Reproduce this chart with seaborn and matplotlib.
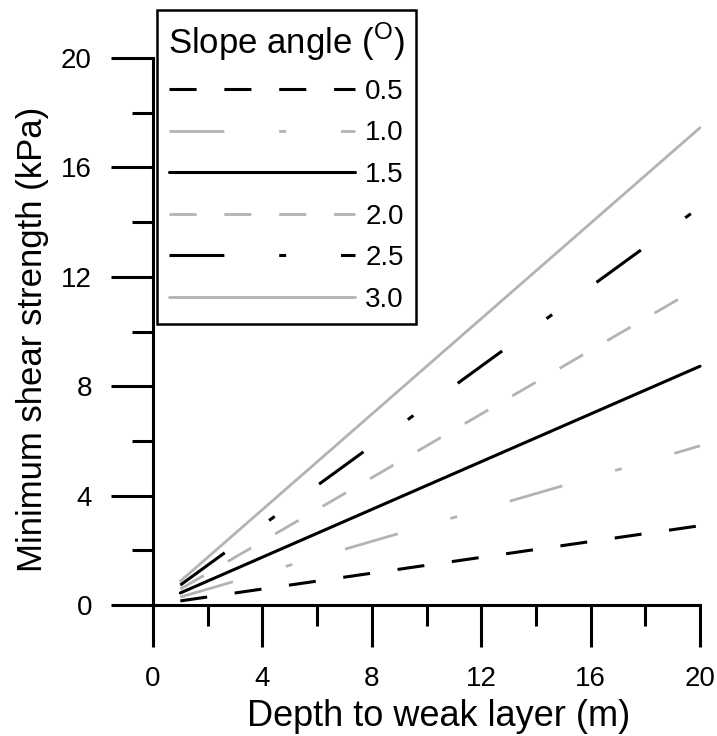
import numpy as np
import pandas as pd
import matplotlib
matplotlib.use("Agg")
import matplotlib.pyplot as plt
from matplotlib.ticker import MultipleLocator
import seaborn as sns

# data (straight lines from 1 m to 20 m)
depth = [1, 20]
angles = ["0.5", "1.0", "1.5", "2.0", "2.5", "3.0"]
s_05 = [0.15, 2.90]
s_10 = [0.29, 5.82]
s_15 = [0.44, 8.73]
s_20 = [0.58, 11.64]
s_25 = [0.73, 14.55]
s_30 = [0.87, 17.45]

rows = []
for ang, vals in zip(angles, [s_05, s_10, s_15, s_20, s_25, s_30]):
    for d, v in zip(depth, vals):
        rows.append({"depth": d, "strength": v, "angle": ang})
df = pd.DataFrame(rows)

# style
sns.set_style("ticks")
plt.rcParams["font.family"] = ["Liberation Sans", "DejaVu Sans"]
plt.rcParams["mathtext.fontset"] = "custom"
plt.rcParams["mathtext.rm"] = "Liberation Sans"
plt.rcParams["lines.scale_dashes"] = False
plt.rcParams["text.color"] = "black"
plt.rcParams["axes.labelcolor"] = "black"

black = "black"
grey = "#b3b3b3"
palette = {"0.5": black, "1.0": grey, "1.5": black,
           "2.0": grey, "2.5": black, "3.0": grey}
dash = (19.5, 20.0)
longdot = (39.5, 39.5, 5.0, 39.5)
dashes = {"0.5": dash, "1.0": longdot, "1.5": "",
          "2.0": dash, "2.5": longdot, "3.0": ""}

fig = plt.figure(figsize=(7.17, 7.36), dpi=100)
ax = fig.add_axes([153 / 717, 131 / 736, 547 / 717, 547 / 736])

sns.lineplot(data=df, x="depth", y="strength", hue="angle", style="angle",
             palette=palette, dashes=dashes, hue_order=angles,
             style_order=angles, legend=False, ax=ax)

for ang, line in zip(angles, ax.lines):
    line.set_linewidth(2.2 if palette[ang] == black else 2.0)
    line.set_clip_on(False)
    line.set_dash_capstyle("butt")

ax.set_xlim(0, 20)
ax.set_ylim(0, 20)
ax.xaxis.set_major_locator(MultipleLocator(4))
ax.xaxis.set_minor_locator(MultipleLocator(2))
ax.yaxis.set_major_locator(MultipleLocator(4))
ax.yaxis.set_minor_locator(MultipleLocator(2))

for s in ["top", "right"]:
    ax.spines[s].set_visible(False)
for s in ["left", "bottom"]:
    ax.spines[s].set_linewidth(2.2)
    ax.spines[s].set_color("black")

ax.tick_params(which="major", direction="out", length=30, width=2.2,
               color="black", labelsize=20, pad=14, labelcolor="black")
ax.tick_params(which="minor", direction="out", length=15, width=2.2,
               color="black")

ax.set_xlabel("Depth to weak layer (m)", fontsize=26)
ax.set_ylabel("Minimum shear strength (kPa)", fontsize=25)
ax.xaxis.set_label_coords(0.523, -0.172)
ax.yaxis.set_label_coords(-0.19, 0.485)

leg = ax.legend(handles=ax.lines, labels=angles,
                title=r"Slope angle ($^{\mathrm{O}}$)",
                loc="upper left",
                bbox_to_anchor=(157 / 717, 1 - 10 / 736),
                bbox_transform=fig.transFigure,
                borderaxespad=0, fontsize=20, title_fontsize=25,
                handlelength=6.7, handletextpad=0.36, borderpad=0.4,
                labelspacing=0.56, fancybox=False, framealpha=1,
                edgecolor="black")
leg.get_frame().set_linewidth(1.8)
leg.set_zorder(5)

plt.savefig("out.png", dpi=100)
plt.close()
